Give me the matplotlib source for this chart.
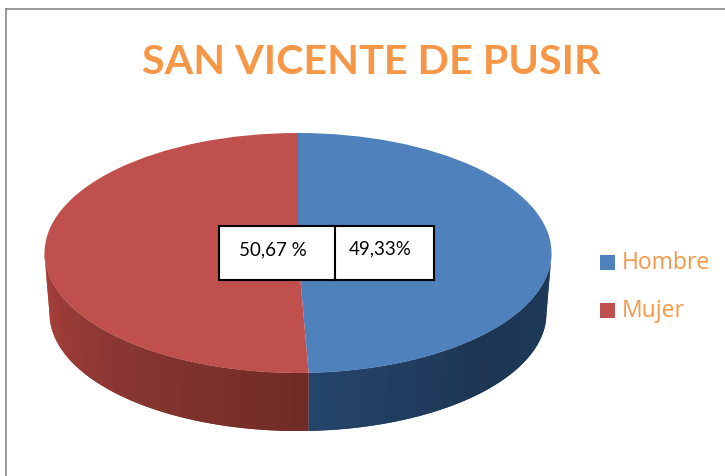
import numpy as np
import matplotlib
matplotlib.use("Agg")
import matplotlib.pyplot as plt
from matplotlib.patches import Rectangle, Polygon
from matplotlib.lines import Line2D

title = "SAN VICENTE DE PUSIR"
categories = ["Hombre", "Mujer"]
values = [49.33, 50.67]
value_labels = ["49,33%", "50,67 %"]
colors = ["#4F81BD", "#C0504D"]

W, H = 725, 476
CX, CY, RX, RY = 298, 253, 253.5, 120
DEPTH = 60.4 / RY
BOTTOM_SCALE = 0.98
ORANGE = "#F79646"

fig = plt.figure(figsize=(W / 100, H / 100), dpi=100, facecolor="white")
ax = fig.add_axes([0, 0, 1, 1])
wedges, _ = ax.pie(values, colors=colors, startangle=90, counterclock=False,
                   radius=1, wedgeprops=dict(linewidth=0, zorder=5))
ax.set_aspect("auto")
ax.set_xlim(-CX / RX, (W - CX) / RX)
ax.set_ylim(-(H - CY) / RY, CY / RY)
ax.axis("off")

# side wall of the disc: angle is measured clockwise from 12 o'clock
split = 360 * values[0] / sum(values)


def lerp(stops, t):
    xs = [s[0] for s in stops]
    return [np.interp(t, xs, [s[1][i] for s in stops]) / 255 for i in range(3)]


blue_stops = [(0, (30, 58, 92)), (0.5, (30, 53, 84)), (1, (36, 70, 107))]
red_stops = [(0, (112, 42, 37)), (0.5, (136, 54, 50)), (1, (170, 64, 60))]


def wall(a0, a1, stops, n=24):
    # strips overlap the next one so no seams show between them
    edges = np.linspace(a0, a1, n + 1)
    for i in range(n):
        end = edges[i + 1] if i == n - 1 else edges[i + 2]
        th = np.radians(np.linspace(edges[i], end, 12))
        x = np.sin(th)
        y = np.cos(th)
        top = np.column_stack([x, y])
        low = np.column_stack([x * BOTTOM_SCALE, y * BOTTOM_SCALE - DEPTH])
        ax.add_patch(Polygon(np.vstack([top, low[::-1]]), closed=True,
                             facecolor=lerp(stops, (i + 0.5) / n),
                             edgecolor="none", zorder=2))


wall(90, split, blue_stops)
wall(split, 270, red_stops)


def px(x, y):
    return x / W, 1 - y / H


def box(x0, y0, x1, y1, text, tx, ty, z):
    fig.add_artist(Rectangle(px(x0, y1), (x1 - x0) / W, (y1 - y0) / H,
                             transform=fig.transFigure, facecolor="white",
                             edgecolor="black", linewidth=1.5, zorder=z))
    fig.text(*px(tx, ty), text, ha="center", va="center", fontsize=13.5,
             family="Lato", color="black", zorder=z + 1)


box(329, 226, 434, 280, value_labels[0], 380, 249, 10)
box(219, 226, 335, 280, value_labels[1], 273, 250, 12)

fig.text(*px(371.5, 62), title, ha="center", va="center", fontsize=29.7,
         family="Lato", weight="bold", color=ORANGE)

for y, name, c in zip([262.5, 310.5], categories, colors):
    fig.add_artist(Rectangle(px(600, y + 7.5), 15 / W, 15 / H,
                             transform=fig.transFigure, facecolor=c,
                             edgecolor="none"))
    fig.text(*px(622, y + 0.5), name, ha="left", va="center", fontsize=16.5,
             family="Open Sans", color=ORANGE)

for xs, ys in [((6, 6), (9, 476)), ((6, 725), (9, 9))]:
    fig.add_artist(Line2D([x / W for x in xs], [1 - y / H for y in ys],
                          transform=fig.transFigure, color="#868686", linewidth=1.2))

fig.savefig("out.png", dpi=100)
